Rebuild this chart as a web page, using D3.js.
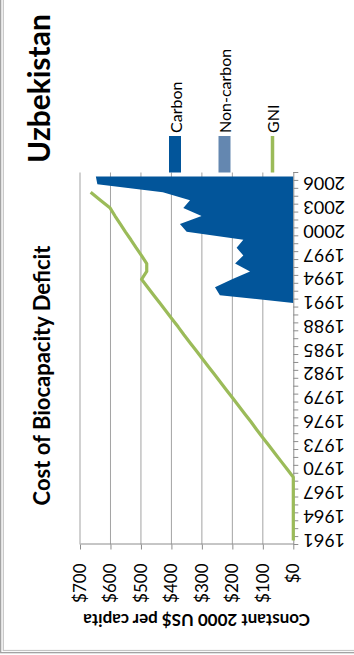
<!DOCTYPE html>
<html>
<head>
<meta charset="utf-8">
<script src="https://cdn.jsdelivr.net/npm/d3@7/dist/d3.min.js"></script>
<style>
  html, body { margin: 0; padding: 0; background: #fff; }
  svg { display: block; font-family: Lato, "Open Sans", sans-serif; }
</style>
</head>
<body>
<svg id="chart" width="354" height="655"></svg>
<script>
// Categories: one per year
const years = [1961,1962,1963,1964,1965,1966,1967,1968,1969,1970,
               1971,1972,1973,1974,1975,1976,1977,1978,1979,1980,
               1981,1982,1983,1984,1985,1986,1987,1988,1989,1990,
               1991,1992,1993,1994,1995,1996,1997,1998,1999,2000,
               2001,2002,2003,2004,2005,2006,2007];

// Cost of carbon deficit, constant 2000 US$ per capita (no data before 1991)
const carbon = [null,null,null,null,null,null,null,null,null,null,
                null,null,null,null,null,null,null,null,null,null,
                null,null,null,null,null,null,null,null,null,null,
                0,241,257,201,142,191,164,186,164,350,
                372,301,361,339,428,643,648];

// Cost of non-carbon deficit (stacked on carbon)
const nonCarbon = [null,null,null,null,null,null,null,null,null,null,
                   null,null,null,null,null,null,null,null,null,null,
                   null,null,null,null,null,null,null,null,null,null,
                   0,0,0,0,0,0,0,0,0,0,
                   0,0,0,0,0,0,0];

// GNI per capita, constant 2000 US$
const gni = [0,0,0,0,0,0,0,0,0,20,
             40,60,80,100,120,139,159,179,199,219,
             239,259,279,299,319,339,359,378,398,418,
             438,458,478,498,481,481,498,516,533,551,
             568,585,601,633,665,null,null];

const valueTicks = [0,100,200,300,400,500,600,700];
const yearLabels = [1961,1964,1967,1970,1973,1976,1979,1982,1985,1988,
                    1991,1994,1997,2000,2003,2006];

const seriesNames = ["Carbon", "Non-carbon", "GNI"];
const colors = { carbon: "#02559A", nonCarbon: "#6487B0", gni: "#9BBB59" };

// The chart is laid out 655 wide x 354 tall, then turned a quarter turn
// counter-clockwise to fit the portrait page.
const W = 655, H = 354;
const svg = d3.select("#chart");
const root = svg.append("g").attr("transform", `translate(0,${W}) rotate(-90)`);

// Frame
root.append("rect").attr("x", 2.3).attr("y", 0.7).attr("width", 1000).attr("height", 1000)
  .attr("fill", "none").attr("stroke", "#9a9a9a").attr("stroke-width", 1.2);
root.append("rect").attr("x", 4.5).attr("y", 3.3).attr("width", 1000).attr("height", 1000)
  .attr("fill", "none").attr("stroke", "#c4c4c4").attr("stroke-width", 1.2);

const plot = { left: 110.5, right: 482.5, top: 80, bottom: 293.3 };

const x = d3.scaleBand().domain(years).range([plot.left, plot.right]).paddingInner(0).paddingOuter(0);
const cx = yr => x(yr) + x.bandwidth() / 2;
const y = d3.scaleLinear().domain([0, 700]).range([plot.bottom, plot.top]);

// Gridlines
root.append("g").selectAll("line").data(valueTicks.filter(v => v > 0)).join("line")
  .attr("x1", plot.left).attr("x2", plot.right)
  .attr("y1", d => y(d)).attr("y2", d => y(d))
  .attr("stroke", "#a3a3a3").attr("stroke-width", 1);

// Stacked areas
const rows = years.map((yr, i) => ({ yr, carbon: carbon[i], nonCarbon: nonCarbon[i], gni: gni[i] }));

const carbonArea = d3.area()
  .defined(d => d.carbon !== null)
  .x(d => cx(d.yr)).y0(y(0)).y1(d => y(d.carbon));
root.append("path").datum(rows).attr("d", carbonArea).attr("fill", colors.carbon);

const nonCarbonArea = d3.area()
  .defined(d => d.nonCarbon !== null)
  .x(d => cx(d.yr)).y0(d => y(d.carbon)).y1(d => y(d.carbon + d.nonCarbon));
root.append("path").datum(rows).attr("d", nonCarbonArea).attr("fill", colors.nonCarbon);

// Value axis
const yAxis = root.append("g").attr("transform", `translate(${plot.left},0)`)
  .call(d3.axisLeft(y).tickValues(valueTicks).tickFormat(d => "$" + d).tickSize(5).tickPadding(14).tickSizeOuter(0));
yAxis.select(".domain").attr("stroke", "#8c8c8c");
yAxis.selectAll(".tick line").attr("stroke", "#8c8c8c");
yAxis.selectAll(".tick text").attr("font-size", 17).attr("fill", "#000")
  .attr("font-family", "Lato, 'Open Sans', sans-serif");

// Category axis
const xAxis = root.append("g").attr("transform", `translate(0,${plot.bottom})`)
  .call(d3.axisBottom(x).tickValues(yearLabels).tickSize(0).tickSizeOuter(0));
xAxis.select(".domain").attr("stroke", "#8c8c8c");
xAxis.selectAll(".tick text")
  .attr("font-size", 18).attr("fill", "#000")
  .attr("font-family", "Lato, 'Open Sans', sans-serif")
  .attr("text-anchor", "end")
  .attr("dominant-baseline", "central")
  .attr("dy", null).attr("y", 0).attr("x", -10)
  .attr("transform", "rotate(-90)");

// Tick marks on category boundaries
const boundaries = years.map(yr => x(yr)).concat([plot.right]);
root.append("g").selectAll("line").data(boundaries).join("line")
  .attr("x1", d => d).attr("x2", d => d)
  .attr("y1", plot.bottom).attr("y2", plot.bottom + 5)
  .attr("stroke", "#8c8c8c");

// GNI line
const gniLine = d3.line()
  .defined(d => d.gni !== null)
  .x(d => cx(d.yr)).y(d => y(d.gni));
root.append("path").datum(rows).attr("d", gniLine)
  .attr("fill", "none").attr("stroke", colors.gni).attr("stroke-width", 3.2)
  .attr("stroke-linejoin", "round");

// Axis title
root.append("text")
  .attr("transform", `translate(41,${(plot.top + plot.bottom) / 2 + 10}) rotate(-90)`)
  .attr("text-anchor", "middle")
  .attr("font-weight", "bold").attr("font-size", 17)
  .text("Constant 2000 US$ per capita");

// Titles
root.append("text")
  .attr("x", 279.5).attr("y", 50).attr("text-anchor", "middle")
  .attr("font-weight", "bold").attr("font-size", 22)
  .text("Cost of Biocapacity Deficit");
root.append("text")
  .attr("x", 566.5).attr("y", 50).attr("text-anchor", "middle")
  .attr("font-weight", "bold").attr("font-size", 30)
  .text("Uzbekistan");

// Legend
const legend = root.append("g");
const legendItems = [
  { name: seriesNames[0], kind: "rect", color: colors.carbon, cy: 175 },
  { name: seriesNames[1], kind: "rect", color: colors.nonCarbon, cy: 224.5 },
  { name: seriesNames[2], kind: "line", color: colors.gni, cy: 272.5 }
];
legendItems.forEach(it => {
  if (it.kind === "rect") {
    legend.append("rect").attr("x", 482.5).attr("y", it.cy - 6).attr("width", 36.5).attr("height", 12)
      .attr("fill", it.color);
  } else {
    legend.append("line").attr("x1", 482.5).attr("x2", 519).attr("y1", it.cy).attr("y2", it.cy)
      .attr("stroke", it.color).attr("stroke-width", 3.5);
  }
  legend.append("text").attr("x", 522).attr("y", it.cy)
    .attr("dominant-baseline", "central").attr("font-size", 16)
    .text(it.name);
});
</script>
</body>
</html>
